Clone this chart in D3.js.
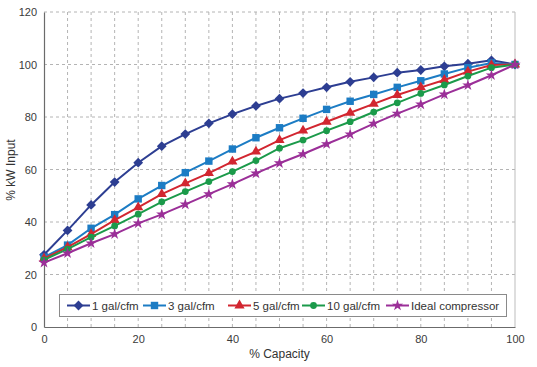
<!DOCTYPE html>
<html><head><meta charset="utf-8">
<script src="https://cdn.jsdelivr.net/npm/d3@7"></script>
<style>
html,body{margin:0;padding:0;background:#fff;}
svg{display:block;font-family:"Liberation Sans",Arial,sans-serif;}
</style></head>
<body>
<svg id="chart" width="537" height="367"></svg>
<script>
const capacity = [0,5,10,15,20,25,30,35,40,45,50,55,60,65,70,75,80,85,90,95,100];
const gal1  = [27.5,36.8,46.5,55.2,62.6,68.9,73.5,77.6,81.1,84.2,87.0,89.1,91.3,93.4,95.1,96.9,97.9,99.3,100.3,101.6,100];
const gal3  = [26.6,31.2,37.6,42.8,48.8,53.9,58.8,63.2,67.8,72.1,75.9,79.5,82.9,86.0,88.6,91.3,93.8,96.4,98.8,100.6,100];
const gal5  = [26.1,30.4,35.4,40.7,45.6,50.6,54.7,58.6,63.0,66.8,71.2,74.8,78.2,81.6,85.0,88.4,91.3,94.1,97.3,99.8,100];
const gal10 = [25.6,29.7,34.2,38.5,43.0,47.7,51.6,55.4,59.2,63.4,68.1,71.2,74.8,78.2,81.9,85.4,89.0,92.2,95.6,98.8,100];
const ideal = [24.5,28.1,31.9,35.4,39.5,42.9,46.7,50.6,54.4,58.5,62.4,65.9,69.7,73.4,77.5,81.3,84.8,88.6,92.1,95.9,100];
const seriesNames = ["1 gal/cfm","3 gal/cfm","5 gal/cfm","10 gal/cfm","Ideal compressor"];
const seriesData = [gal1, gal3, gal5, gal10, ideal];
const xTicks = [0,20,40,60,80,100];
const yTicks = [0,20,40,60,80,100,120];
const xTitle = "% Capacity";
const yTitle = "% kW Input";

const colors = ["#2d3e92","#1c7cc4","#d22630","#1b9a4a","#9b2f98"];
const symbols = [d3.symbolSquare, d3.symbolSquare, d3.symbolTriangle, d3.symbolCircle, d3.symbolStar];
const symSizes = [48, 55, 45, 36, 40];
const symRot = [45, 0, 0, 0, 0];

const svg = d3.select("#chart");
const L = 44, R = 515, T = 12, B = 327;
const x = d3.scaleLinear().domain([0,100]).range([L,R]);
const y = d3.scaleLinear().domain([0,120]).range([B,T]);

// grid
const grid = svg.append("g");
grid.selectAll("line.v").data(d3.range(5,100,5)).join("line")
  .attr("x1", d=>x(d)).attr("x2", d=>x(d)).attr("y1", T).attr("y2", B)
  .attr("stroke","#b4b4b4").attr("stroke-width",1).attr("stroke-dasharray","3,3");
grid.selectAll("line.h").data(yTicks.slice(1)).join("line")
  .attr("x1", L).attr("x2", R).attr("y1", d=>y(d)).attr("y2", d=>y(d))
  .attr("stroke","#b4b4b4").attr("stroke-width",1).attr("stroke-dasharray","3,3");

// right border
svg.append("line").attr("x1",R).attr("x2",R).attr("y1",T).attr("y2",B)
  .attr("stroke","#bdbdbd").attr("stroke-width",1);

// axes
const xAxis = svg.append("g").attr("transform",`translate(0,${B})`)
  .call(d3.axisBottom(x).tickValues(xTicks).tickSize(0).tickPadding(8));
const yAxis = svg.append("g").attr("transform",`translate(${L},0)`)
  .call(d3.axisLeft(y).tickValues(yTicks).tickSize(0).tickPadding(7));
[xAxis,yAxis].forEach(a=>{
  a.select(".domain").attr("stroke","#6b6b6b").attr("stroke-width",1.2);
  a.selectAll("text").attr("font-size","11px").attr("fill","#3a3a3a")
    .attr("font-family","'Liberation Sans',Arial,sans-serif");
});

// titles
svg.append("text").attr("x",(L+R)/2).attr("y",358).attr("text-anchor","middle")
  .attr("font-size","12px").attr("fill","#333").text(xTitle);
svg.append("text").attr("transform","translate(15,170) rotate(-90)").attr("text-anchor","middle")
  .attr("font-size","12px").attr("fill","#333").text(yTitle);

// lines and markers
const line = d3.line().x((d,i)=>x(capacity[i])).y(d=>y(d));
seriesData.forEach((vals,si)=>{
  const g = svg.append("g");
  g.append("path").datum(vals).attr("d",line).attr("fill","none")
    .attr("stroke",colors[si]).attr("stroke-width",2);
  g.selectAll("path.m").data(vals).join("path").attr("class","m")
    .attr("transform",(d,i)=>`translate(${x(capacity[i])},${y(d)}) rotate(${symRot[si]})`)
    .attr("d", d3.symbol().type(symbols[si]).size(symSizes[si]))
    .attr("fill",colors[si]);
});

// legend
const lg = svg.append("g");
lg.append("rect").attr("x",59.5).attr("y",294.5).attr("width",447).attr("height",22)
  .attr("fill","#fff").attr("stroke","#8a8a8a").attr("stroke-width",1);
const itemX = [67,143,228,302,386];
seriesNames.forEach((name,si)=>{
  const x0 = itemX[si], cy = 305.5;
  lg.append("line").attr("x1",x0).attr("x2",x0+23).attr("y1",cy).attr("y2",cy)
    .attr("stroke",colors[si]).attr("stroke-width",2);
  lg.append("path").attr("transform",`translate(${x0+11.5},${cy}) rotate(${symRot[si]})`)
    .attr("d", d3.symbol().type(symbols[si]).size(symSizes[si])).attr("fill",colors[si]);
  lg.append("text").attr("x",x0+25).attr("y",cy+4).attr("font-size","11.5px")
    .attr("fill","#333").text(name);
});
</script>
</body></html>
